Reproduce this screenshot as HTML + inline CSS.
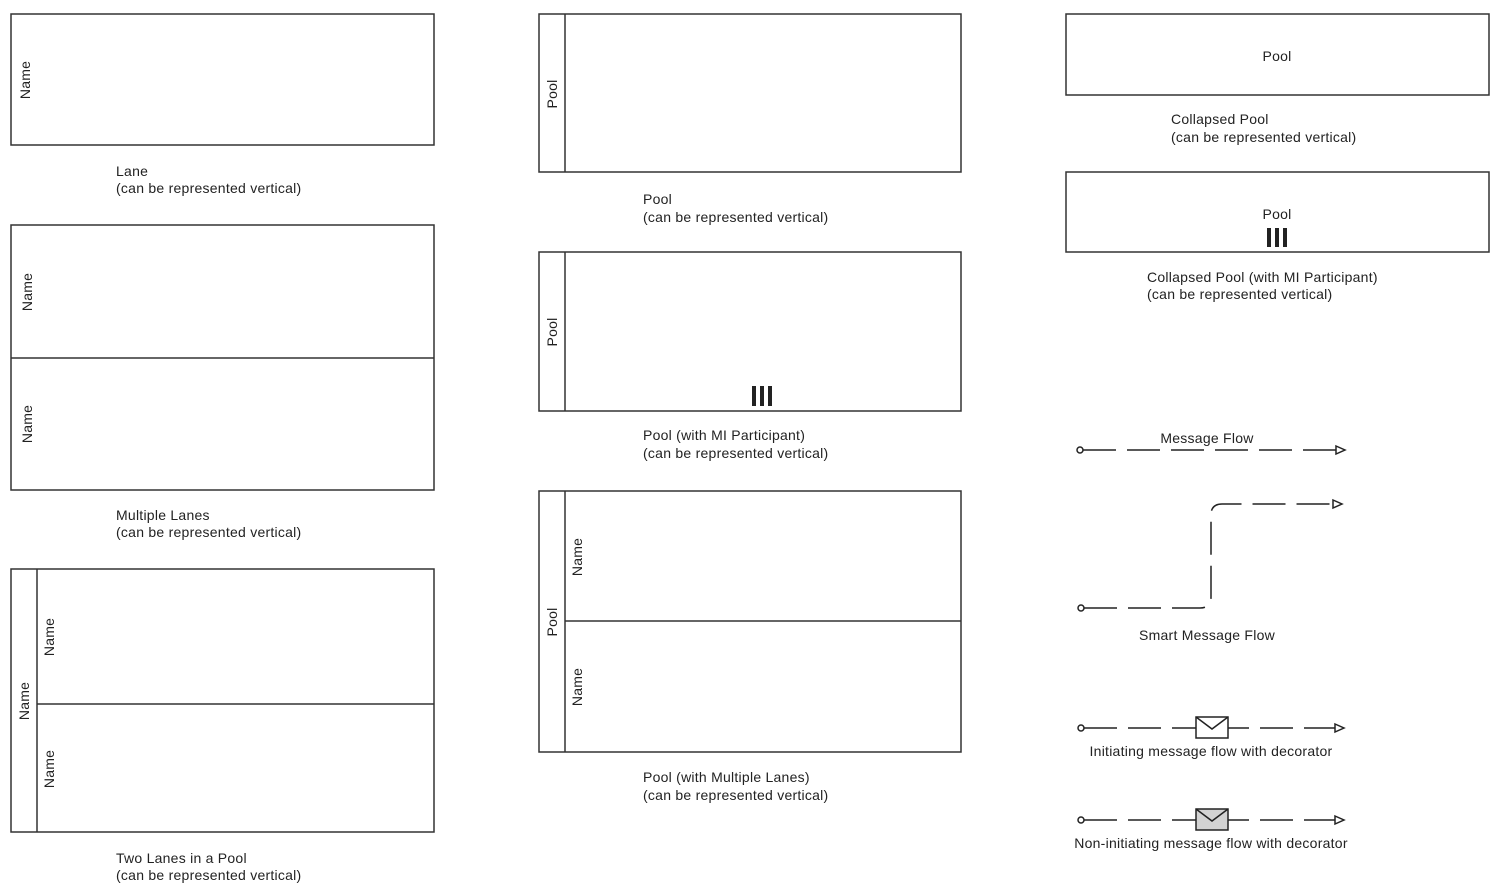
<!DOCTYPE html>
<html><head><meta charset="utf-8"><style>
html,body{margin:0;padding:0;background:#fff;}
svg{display:block;}
text{font-family:"Liberation Sans",sans-serif;font-size:14px;fill:#222;letter-spacing:0.25px;}
</style></head><body>
<svg width="1500" height="896" viewBox="0 0 1500 896" xmlns="http://www.w3.org/2000/svg">
<g fill="none" stroke="#333" stroke-width="1.5">
<rect x="11" y="14" width="423" height="131"/>
<rect x="11" y="225" width="423" height="265"/>
<line x1="11" y1="358" x2="434" y2="358"/>
<rect x="11" y="569" width="423" height="263"/>
<line x1="37" y1="569" x2="37" y2="832"/>
<line x1="37" y1="704" x2="434" y2="704"/>
<rect x="539" y="14" width="422" height="158"/>
<line x1="565" y1="14" x2="565" y2="172"/>
<rect x="539" y="252" width="422" height="159"/>
<line x1="565" y1="252" x2="565" y2="411"/>
<rect x="539" y="491" width="422" height="261"/>
<line x1="565" y1="491" x2="565" y2="752"/>
<line x1="565" y1="621" x2="961" y2="621"/>
<rect x="1066" y="14" width="423" height="81"/>
<rect x="1066" y="172" width="423" height="80"/>
</g>
<g fill="#222">
<rect x="752" y="386" width="4" height="20"/><rect x="760" y="386" width="4" height="20"/><rect x="768" y="386" width="4" height="20"/>
<rect x="1267" y="228" width="4" height="19"/><rect x="1275" y="228" width="4" height="19"/><rect x="1283" y="228" width="4" height="19"/>
</g>
<g text-anchor="middle">
<text transform="translate(30,80) rotate(-90)">Name</text>
<text transform="translate(32,292) rotate(-90)">Name</text>
<text transform="translate(32,424) rotate(-90)">Name</text>
<text transform="translate(29,701) rotate(-90)">Name</text>
<text transform="translate(54,637) rotate(-90)">Name</text>
<text transform="translate(54,769) rotate(-90)">Name</text>
<text transform="translate(557,94) rotate(-90)">Pool</text>
<text transform="translate(557,332) rotate(-90)">Pool</text>
<text transform="translate(557,622) rotate(-90)">Pool</text>
<text transform="translate(582,557) rotate(-90)">Name</text>
<text transform="translate(582,687) rotate(-90)">Name</text>
<text x="1277" y="61">Pool</text>
<text x="1277" y="219">Pool</text>
<text x="1207" y="443">Message Flow</text>
<text x="1207" y="640">Smart Message Flow</text>
<text x="1211" y="756">Initiating message flow with decorator</text>
<text x="1211" y="848">Non-initiating message flow with decorator</text>
</g>
<text x="116" y="176">Lane</text><text x="116" y="193">(can be represented vertical)</text>
<text x="116" y="520">Multiple Lanes</text><text x="116" y="537">(can be represented vertical)</text>
<text x="116" y="863">Two Lanes in a Pool</text><text x="116" y="880">(can be represented vertical)</text>
<text x="643" y="204">Pool</text><text x="643" y="222">(can be represented vertical)</text>
<text x="643" y="440">Pool (with MI Participant)</text><text x="643" y="458">(can be represented vertical)</text>
<text x="643" y="782">Pool (with Multiple Lanes)</text><text x="643" y="800">(can be represented vertical)</text>
<text x="1171" y="124">Collapsed Pool</text><text x="1171" y="142">(can be represented vertical)</text>
<text x="1147" y="282">Collapsed Pool (with MI Participant)</text><text x="1147" y="299">(can be represented vertical)</text>
<g fill="none" stroke="#222" stroke-width="1.5">
<line x1="1083" y1="450" x2="1336" y2="450" stroke-dasharray="33 11"/>
<path d="M1084 608 H1200 Q1211 608 1211 597 V515 Q1211 504 1222 504 H1333" stroke-dasharray="33 11"/>
<line x1="1084" y1="728" x2="1336" y2="728" stroke-dasharray="33 11"/>
<line x1="1084" y1="820" x2="1336" y2="820" stroke-dasharray="33 11"/>
<circle cx="1080" cy="450" r="3" fill="#fff"/>
<circle cx="1081" cy="608" r="3" fill="#fff"/>
<circle cx="1081" cy="728" r="3" fill="#fff"/>
<circle cx="1081" cy="820" r="3" fill="#fff"/>
<path d="M1336 446 L1345 450 L1336 454 Z" fill="#fff"/>
<path d="M1333 500 L1342 504 L1333 508 Z" fill="#fff"/>
<path d="M1335 724 L1344 728 L1335 732 Z" fill="#fff"/>
<path d="M1335 816 L1344 820 L1335 824 Z" fill="#fff"/>
<rect x="1196" y="717" width="32" height="21" fill="#fff"/>
<path d="M1196 717 L1212 729 L1228 717"/>
<rect x="1196" y="809" width="32" height="21" fill="#d3d3d3"/>
<path d="M1196 809 L1212 821 L1228 809"/>
</g>
</svg>
</body></html>
